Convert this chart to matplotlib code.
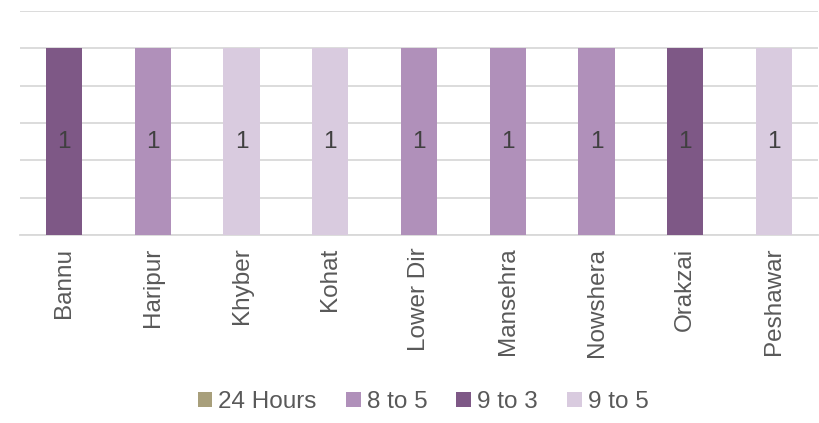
import matplotlib
matplotlib.use("Agg")
import matplotlib.pyplot as plt
import numpy as np

plt.rcParams['font.family'] = ['Liberation Sans', 'DejaVu Sans']

categories = ["Bannu", "Haripur", "Khyber", "Kohat", "Lower Dir", "Mansehra", "Nowshera", "Orakzai", "Peshawar"]
series_names = ["24 Hours", "8 to 5", "9 to 3", "9 to 5"]
hours_24 = [0, 0, 0, 0, 0, 0, 0, 0, 0]
h8_to_5 = [0, 1, 0, 0, 1, 1, 1, 0, 0]
h9_to_3 = [1, 0, 0, 0, 0, 0, 0, 1, 0]
h9_to_5 = [0, 0, 1, 1, 0, 0, 0, 0, 1]
colors = ["#a89f7b", "#b090ba", "#7e5886", "#d9cbdf"]

fig = plt.figure(figsize=(8.2, 4.23), dpi=100)
ax = fig.add_axes([0.024, 0.444, 0.974, 0.53])

x = np.arange(len(categories))
bottom = np.zeros(len(categories))
for name, vals, col in zip(series_names, [hours_24, h8_to_5, h9_to_3, h9_to_5], colors):
    vals = np.array(vals, dtype=float)
    ax.bar(x, vals, 0.41, bottom=bottom, color=col, label=name, zorder=3)
    for xi, v, b in zip(x, vals, bottom):
        if v > 0:
            ax.text(xi, b + v / 2, f"{int(v)}", ha="center", va="center",
                    fontsize=17.5, color="#404040", zorder=4)
    bottom += vals

ax.set_xlim(-0.5, len(categories) - 0.5)
ax.set_ylim(0, 1.2)
ax.set_yticks(np.arange(0, 1.21, 0.2))
ax.yaxis.grid(True, color="#d9d9d9", linewidth=1.3, zorder=0)
ax.tick_params(axis="y", left=False, labelleft=False)
ax.tick_params(axis="x", bottom=False, length=0, pad=9)
ax.set_xticks(x)
ax.set_xticklabels(categories, rotation=90, fontsize=17.5, color="#595959")
for s in ["top", "right", "left"]:
    ax.spines[s].set_visible(False)
ax.spines["bottom"].set_color("#d9d9d9")
ax.spines["bottom"].set_linewidth(1.3)

leg = fig.legend(loc="center", bbox_to_anchor=(0.516, 1 - 402 / 423), ncol=4, frameon=False,
                 fontsize=17.5, handlelength=0.6, handleheight=0.6, handletextpad=0.25,
                 columnspacing=1.2, labelcolor="#595959", borderpad=0, borderaxespad=0)

fig.savefig("out.png", dpi=100)
